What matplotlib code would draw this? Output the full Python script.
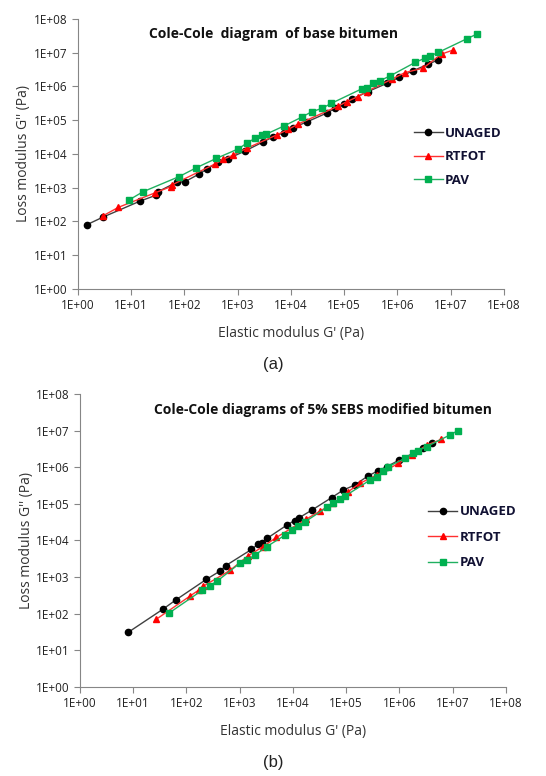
import matplotlib.pyplot as plt
import numpy as np

# log10 of moduli read per series: (G', G'')
base_unaged_x = [0.16, 0.47, 1.16, 1.47, 1.50, 1.85, 2.01, 2.28, 2.43, 2.63, 2.82, 3.14, 3.48, 3.67, 3.86,
                 4.04, 4.30, 4.67, 4.83, 5.00, 5.14, 5.45, 5.80, 6.03, 6.30, 6.58, 6.77]
base_unaged_y = [1.90, 2.13, 2.60, 2.78, 2.88, 3.16, 3.18, 3.41, 3.56, 3.75, 3.86, 4.09, 4.36, 4.51, 4.63,
                 4.78, 4.95, 5.21, 5.35, 5.47, 5.62, 5.85, 6.09, 6.27, 6.47, 6.66, 6.79]
base_rtfot_x = [0.46, 0.76, 1.45, 1.74, 1.76, 2.57, 2.73, 2.92, 3.17, 3.73, 3.95, 4.14, 4.89, 5.05, 5.26,
                5.42, 5.89, 6.14, 6.48, 6.83, 7.05]
base_rtfot_y = [2.16, 2.42, 2.85, 3.03, 3.08, 3.70, 3.84, 3.97, 4.17, 4.56, 4.73, 4.89, 5.42, 5.55, 5.70,
                5.85, 6.21, 6.41, 6.54, 6.96, 7.08]
base_pav_x = [0.95, 1.22, 1.90, 2.22, 2.60, 3.01, 3.17, 3.32, 3.45, 3.54, 3.87, 4.20, 4.39, 4.58, 4.76,
              5.33, 5.42, 5.55, 5.67, 5.86, 6.33, 6.52, 6.61, 6.77, 7.30, 7.49]
base_pav_y = [2.63, 2.88, 3.33, 3.59, 3.87, 4.15, 4.32, 4.46, 4.56, 4.59, 4.83, 5.09, 5.25, 5.35, 5.50,
              5.93, 5.96, 6.09, 6.17, 6.31, 6.71, 6.84, 6.90, 7.01, 7.41, 7.55]

sebs_unaged_x = [0.91, 1.55, 1.80, 2.37, 2.63, 2.74, 3.22, 3.35, 3.41, 3.51, 3.89, 4.03, 4.12, 4.36, 4.73,
                 4.94, 5.16, 5.41, 5.60, 5.76, 5.99, 6.45, 6.62]
sebs_unaged_y = [1.49, 2.11, 2.37, 2.93, 3.16, 3.31, 3.75, 3.90, 3.93, 4.05, 4.42, 4.54, 4.62, 4.83, 5.17,
                 5.37, 5.51, 5.76, 5.90, 6.01, 6.19, 6.51, 6.65]
sebs_rtfot_x = [1.43, 2.07, 2.23, 2.32, 2.82, 3.16, 3.44, 3.69, 4.24, 4.51, 4.76, 5.04, 5.26, 5.57, 5.98,
                6.23, 6.51, 6.79]
sebs_rtfot_y = [1.84, 2.48, 2.64, 2.75, 3.18, 3.58, 3.83, 4.08, 4.57, 4.80, 5.01, 5.33, 5.56, 5.78, 6.10,
                6.33, 6.60, 6.76]
sebs_pav_x = [1.68, 2.30, 2.44, 2.58, 3.00, 3.13, 3.29, 3.51, 3.85, 3.99, 4.10, 4.23, 4.64, 4.76, 4.88,
              4.98, 5.45, 5.57, 5.70, 5.79, 6.10, 6.26, 6.35, 6.51, 6.95, 7.10]
sebs_pav_y = [2.02, 2.64, 2.76, 2.89, 3.37, 3.46, 3.60, 3.83, 4.14, 4.28, 4.39, 4.51, 4.90, 5.01, 5.12,
              5.21, 5.65, 5.74, 5.90, 6.01, 6.24, 6.38, 6.45, 6.56, 6.88, 7.00]

decades = list(range(0, 9))
tick_labels = ["1E+%02d" % d for d in decades]
series_names = ["UNAGED", "RTFOT", "PAV"]

plt.rcParams['font.family'] = ['Open Sans', 'DejaVu Sans']

fig = plt.figure(figsize=(5.46, 7.76), dpi=100)
ax_a = fig.add_axes([0.1429, 0.6276, 0.780, 0.348])
ax_b = fig.add_axes([0.1465, 0.1151, 0.780, 0.3772])

styles = [
    dict(color="#404040", marker="o", markerfacecolor="black", markeredgecolor="black", markersize=4.5),
    dict(color="#ff3030", marker="^", markerfacecolor="red", markeredgecolor="red", markersize=4.5),
    dict(color="#20b060", marker="s", markerfacecolor="#00b050", markeredgecolor="#00b050", markersize=4.5),
]


def draw(ax, data, title, title_x, legend_anchor, spacing, ypad):
    for (xs, ys), name, st in zip(data, series_names, styles):
        ax.plot(10 ** np.array(xs), 10 ** np.array(ys), lw=1, label=name, **st)
    ax.set_xscale("log")
    ax.set_yscale("log")
    ax.set_xlim(1, 1e8)
    ax.set_ylim(1, 1e8)
    ax.set_xticks([10.0 ** d for d in decades])
    ax.set_xticklabels(tick_labels)
    ax.set_yticks([10.0 ** d for d in decades])
    ax.set_yticklabels(tick_labels)
    ax.minorticks_off()
    for s in ["top", "right"]:
        ax.spines[s].set_visible(False)
    for s in ["left", "bottom"]:
        ax.spines[s].set_color("#868686")
    ax.tick_params(direction="out", length=4, color="#868686", labelsize=8.5, labelcolor="#222222")
    ax.set_xlabel("Elastic modulus G' (Pa)", fontsize=10, color="#333333", labelpad=10)
    ax.set_ylabel("Loss modulus G'' (Pa)", fontsize=10, color="#333333", labelpad=ypad)
    ax.text(title_x, 0.97, title, transform=ax.transAxes, ha="center", va="top",
            fontsize=10, fontweight="bold", color="#111111")
    leg = ax.legend(loc="center left", bbox_to_anchor=legend_anchor, frameon=False,
                    fontsize=9.5, handlelength=2.2, handletextpad=0.2, labelspacing=spacing)
    for t in leg.get_texts():
        t.set_fontweight("bold")
        t.set_color("#111133")


draw(ax_a, [(base_unaged_x, base_unaged_y), (base_rtfot_x, base_rtfot_y), (base_pav_x, base_pav_y)],
     "Cole-Cole  diagram  of base bitumen", 0.46, (0.76, 0.49), 0.8, 2)
draw(ax_b, [(sebs_unaged_x, sebs_unaged_y), (sebs_rtfot_x, sebs_rtfot_y), (sebs_pav_x, sebs_pav_y)],
     "Cole-Cole diagrams of 5% SEBS modified bitumen", 0.57, (0.79, 0.51), 0.95, 1)

fig.text(0.5, 1 - 365 / 776, "(a)", ha="center", va="center", fontsize=12,
         family="Liberation Sans", color="#222222")
fig.text(0.5, 1 - 763 / 776, "(b)", ha="center", va="center", fontsize=12,
         family="Liberation Sans", color="#222222")

fig.savefig("out.png", dpi=100)
